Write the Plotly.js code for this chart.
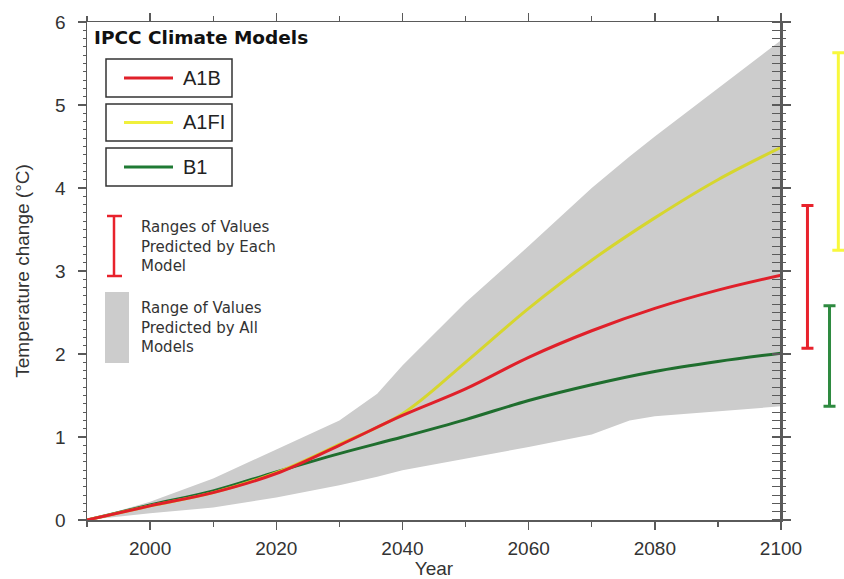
<!DOCTYPE html>
<html>
<head>
<meta charset="utf-8">
<script src="https://cdn.plot.ly/plotly-3.0.1.min.js"></script>
<style>html,body{margin:0;padding:0;background:#fff;}#chart{width:844px;height:579px;}</style>
</head>
<body>
<div id="chart"></div>
<script>
// ---- Data ----
const years = [1990, 2000, 2010, 2020, 2030, 2040, 2050, 2060, 2070, 2080, 2090, 2100];
const a1b   = [0, 0.17, 0.33, 0.56, 0.90, 1.26, 1.58, 1.96, 2.28, 2.55, 2.77, 2.95];
const a1fi  = [0, 0.17, 0.33, 0.57, 0.91, 1.28, 1.90, 2.55, 3.13, 3.64, 4.10, 4.49];
const b1    = [0, 0.18, 0.35, 0.58, 0.80, 1.00, 1.21, 1.44, 1.63, 1.79, 1.91, 2.01];

const bandYears = [1990, 2000, 2010, 2020, 2030, 2036, 2040, 2050, 2060, 2070, 2076, 2080, 2090, 2100];
const bandUpper = [0, 0.22, 0.50, 0.85, 1.20, 1.52, 1.86, 2.62, 3.30, 4.00, 4.38, 4.62, 5.20, 5.78];
const bandLower = [0, 0.08, 0.15, 0.27, 0.42, 0.52, 0.60, 0.74, 0.88, 1.03, 1.20, 1.25, 1.31, 1.37];

const rangeModels = ['A1B', 'B1', 'A1FI'];
const rangeLow    = [2.07, 1.37, 3.25];
const rangeHigh   = [3.79, 2.58, 5.63];

const xTickVals = [2000, 2020, 2040, 2060, 2080, 2100];
const yTickVals = [0, 1, 2, 3, 4, 5, 6];

const legendTitle = 'IPCC Climate Models';
const legendNames = ['A1B', 'A1FI', 'B1'];
const eachModelText = ['Ranges of Values', 'Predicted by Each', 'Model'];
const allModelsText = ['Range of Values', 'Predicted by All', 'Models'];

// ---- Styles ----
const colors = {A1B: '#e0202a', A1FI: '#d6d62e', B1: '#1f6e2e'};
const legendColors = {A1B: '#e0202a', A1FI: '#f0f03c', B1: '#1f7a34'};
const barColors = {A1B: '#e8222c', A1FI: '#f8f83c', B1: '#2e8a40'};
const barPos = {A1B: 0.42, B1: 0.77, A1FI: 0.91};
const gray = '#cccccc';
const txt = '#333';

const traces = [];
traces.push({x: bandYears, y: bandLower, mode: 'lines', line: {width: 0, color: gray}, hoverinfo: 'skip', showlegend: false});
traces.push({x: bandYears, y: bandUpper, mode: 'lines', fill: 'tonexty', fillcolor: gray, line: {width: 0, color: gray}, hoverinfo: 'skip', showlegend: false});
traces.push({x: years, y: b1, mode: 'lines', line: {color: colors.B1, width: 3, shape: 'spline'}, showlegend: false});
traces.push({x: years, y: a1fi, mode: 'lines', line: {color: colors.A1FI, width: 3, shape: 'spline'}, showlegend: false});
traces.push({x: years, y: a1b, mode: 'lines', line: {color: colors.A1B, width: 3, shape: 'spline'}, showlegend: false});

rangeModels.forEach((m, i) => {
  const mid = (rangeLow[i] + rangeHigh[i]) / 2;
  traces.push({
    x: [barPos[m]], y: [mid], xaxis: 'x2', yaxis: 'y', mode: 'markers',
    marker: {size: 1, color: 'rgba(0,0,0,0)'}, cliponaxis: false,
    error_y: {type: 'data', array: [(rangeHigh[i] - rangeLow[i]) / 2], color: barColors[m], thickness: 3, width: 6},
    showlegend: false, hoverinfo: 'skip'
  });
});

const axisColor = '#5a5a5a';
const plotW = 694, pageL = 87;
const dom = plotW / (844 - pageL);
function px(xp) { return (xp - pageL) / (844 - pageL); }
function py(yp) { return (520 - yp) / 498; }

const shapes = [];
const annotations = [];
annotations.push({xref: 'paper', yref: 'paper', x: px(92), y: py(38), xanchor: 'left', yanchor: 'middle', showarrow: false,
  text: '<b>' + legendTitle + '</b>', font: {family: 'DejaVu Sans', size: 18.5, color: '#111'}});
const boxes = [[59, 97], [104, 141], [148, 186]];
legendNames.forEach((name, i) => {
  const [t, b] = boxes[i];
  shapes.push({type: 'rect', xref: 'paper', yref: 'paper', x0: px(106), x1: px(232), y0: py(b), y1: py(t), line: {color: '#333', width: 1.5}, fillcolor: 'rgba(0,0,0,0)'});
  const ym = py((t + b) / 2);
  shapes.push({type: 'line', xref: 'paper', yref: 'paper', x0: px(124), x1: px(173), y0: ym, y1: ym, line: {color: legendColors[name], width: 3}});
  annotations.push({xref: 'paper', yref: 'paper', x: px(181), y: ym, xanchor: 'left', yanchor: 'middle', showarrow: false,
    text: name, font: {family: 'Liberation Sans, Arial', size: 20, color: '#222'}});
});
// red I symbol
shapes.push({type: 'line', xref: 'paper', yref: 'paper', x0: px(114), x1: px(114), y0: py(276), y1: py(216), line: {color: '#e8222c', width: 2.5}});
shapes.push({type: 'line', xref: 'paper', yref: 'paper', x0: px(107), x1: px(122), y0: py(216), y1: py(216), line: {color: '#e8222c', width: 2.5}});
shapes.push({type: 'line', xref: 'paper', yref: 'paper', x0: px(107), x1: px(122), y0: py(276), y1: py(276), line: {color: '#e8222c', width: 2.5}});
annotations.push({xref: 'paper', yref: 'paper', x: px(139), y: py(246), xanchor: 'left', yanchor: 'middle', showarrow: false, align: 'left',
  text: eachModelText.join('<br>'), font: {family: 'DejaVu Sans', size: 15, color: txt}});
shapes.push({type: 'rect', xref: 'paper', yref: 'paper', x0: px(105), x1: px(129), y0: py(363), y1: py(292), line: {width: 0}, fillcolor: gray});
annotations.push({xref: 'paper', yref: 'paper', x: px(139), y: py(327), xanchor: 'left', yanchor: 'middle', showarrow: false, align: 'left',
  text: allModelsText.join('<br>'), font: {family: 'DejaVu Sans', size: 15, color: txt}});

const layout = {
  width: 844, height: 579,
  margin: {l: pageL, r: 0, t: 22, b: 59, pad: 0},
  paper_bgcolor: '#fff', plot_bgcolor: '#fff',
  showlegend: false,
  font: {family: 'Liberation Sans, Arial', color: txt},
  xaxis: {
    domain: [0, dom], range: [1990, 2100], tickvals: xTickVals, ticktext: xTickVals.map(String),
    showgrid: false, zeroline: false, showline: true, linecolor: axisColor, linewidth: 1.5,
    mirror: 'allticks', ticks: 'outside', ticklen: 8, tickwidth: 1.5, tickcolor: axisColor,
    minor: {dtick: 10, tick0: 1990, ticks: 'outside', ticklen: 5, tickwidth: 1.2, tickcolor: axisColor, showgrid: false},
    tickfont: {size: 19, color: txt}, ticklabelstandoff: 3,
    title: {text: 'Year', font: {size: 19, color: txt}, standoff: 2}
  },
  xaxis2: {domain: [dom, 1], range: [0, 1], anchor: 'y', visible: false, showgrid: false, zeroline: false},
  yaxis: {
    range: [0, 6], tickvals: yTickVals, ticktext: yTickVals.map(String),
    showgrid: false, zeroline: false, showline: true, linecolor: axisColor, linewidth: 1.5,
    mirror: 'allticks', ticks: 'outside', ticklen: 8, tickwidth: 1.5, tickcolor: axisColor,
    minor: {dtick: 0.1, ticks: 'outside', ticklen: 3, tickwidth: 1, tickcolor: axisColor, showgrid: false},
    tickfont: {size: 19, color: txt}, ticklabelstandoff: 8,
    title: {text: 'Temperature change (°C)', font: {size: 19, color: txt}, standoff: 20}
  },
  shapes: shapes,
  annotations: annotations
};

Plotly.newPlot('chart', traces, layout, {displayModeBar: false, staticPlot: true});
</script>
</body>
</html>
